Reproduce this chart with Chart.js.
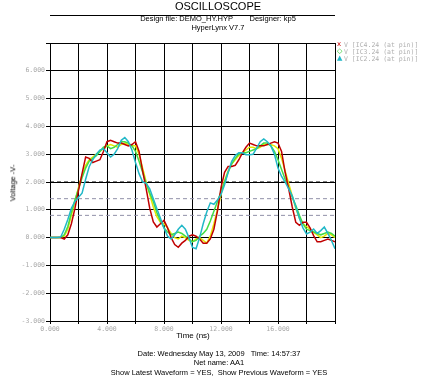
<!DOCTYPE html>
<html>
<head>
<meta charset="utf-8">
<script src="https://cdn.jsdelivr.net/npm/chart.js@4.4.0/dist/chart.umd.min.js"></script>
<style>
  html,body{margin:0;padding:0;background:#fff;}
  #wrap{position:relative;width:445px;height:384px;overflow:hidden;font-family:"Liberation Sans",Arial,sans-serif;}
  canvas{position:absolute;left:0;top:0;}
  .t{position:absolute;white-space:pre;color:#000;line-height:1;}
  .c{transform:translateX(-50%);}
  .lg{position:absolute;white-space:pre;font-family:"DejaVu Sans Mono",monospace;font-size:6.5px;color:#b0b0b0;line-height:1;}
  .mk{position:absolute;font-size:7px;line-height:1;font-family:"DejaVu Sans",sans-serif;}
</style>
</head>
<body>
<div id="wrap">
  <canvas id="c" width="445" height="384"></canvas>
  <div class="t c" style="left:218px;top:1px;font-size:11px;">OSCILLOSCOPE</div>
  <div style="position:absolute;left:50px;top:15px;width:285px;height:1px;background:#000;"></div>
  <div class="t c" style="left:218px;top:15px;font-size:7.5px;">Design file: DEMO_HY.HYP        Designer: kp5</div>
  <div class="t c" style="left:218px;top:24px;font-size:7.5px;">HyperLynx V7.7</div>
  <div class="t" style="left:13px;top:183px;font-size:7.5px;transform:translate(-50%,-50%) rotate(-90deg);">Voltage -V-</div>
  <div class="t c" style="left:193px;top:332px;font-size:8px;">Time (ns)</div>
  <div class="t c" style="left:219px;top:350px;font-size:7.5px;">Date: Wednesday May 13, 2009   Time: 14:57:37</div>
  <div class="t c" style="left:219px;top:359px;font-size:7.5px;">Net name: AA1</div>
  <div class="t c" style="left:219px;top:369px;font-size:7.5px;">Show Latest Waveform = YES,  Show Previous Waveform = YES</div>
  <div class="mk" style="left:337px;top:41px;color:#cc0000;">x</div>
  <div class="lg" style="left:344px;top:42px;">V [IC4.24 (at pin)]</div>
  <div class="mk" style="left:337px;top:48px;color:#33cc33;">&#9671;</div>
  <div class="lg" style="left:344px;top:49px;">V [IC3.24 (at pin)]</div>
  <div class="mk" style="left:337px;top:55px;color:#20b8c8;">&#9650;</div>
  <div class="lg" style="left:344px;top:56px;">V [IC2.24 (at pin)]</div>
</div>
<script>
const times = [0,0.25,0.5,0.75,1,1.25,1.5,1.75,2,2.25,2.5,2.75,3,3.25,3.5,3.75,4,4.25,4.5,4.75,5,5.25,5.5,5.75,6,6.25,6.5,6.75,7,7.25,7.5,7.75,8,8.25,8.5,8.75,9,9.25,9.5,9.75,10,10.25,10.5,10.75,11,11.25,11.5,11.75,12,12.25,12.5,12.75,13,13.25,13.5,13.75,14,14.25,14.5,14.75,15,15.25,15.5,15.75,16,16.25,16.5,16.75,17,17.25,17.5,17.75,18,18.25,18.5,18.75,19,19.25,19.5,19.75,20];

const vIC4 = [0,0,0,0,-0.05,0.1,0.5,1.05,1.7,2.3,2.9,2.85,2.7,2.75,2.8,3.1,3.45,3.5,3.45,3.4,3.4,3.35,3.3,3.35,3.45,3.1,2.4,1.75,1.05,0.56,0.38,0.5,0.62,0.35,0.0,-0.25,-0.35,-0.2,-0.1,0.05,0.1,0.05,-0.05,-0.2,-0.2,-0.05,0.3,0.95,1.8,2.35,2.56,2.56,2.6,2.8,3.05,3.25,3.4,3.35,3.3,3.3,3.3,3.35,3.4,3.45,3.4,3.1,2.35,1.75,1.1,0.55,0.44,0.55,0.55,0.35,0.07,-0.15,-0.15,-0.1,-0.05,-0.1,-0.15];

const vPrev = [0,0,0,0,0.05,0.3,0.8,1.3,1.8,2.25,2.6,2.8,2.9,3.0,3.1,3.2,3.3,3.35,3.3,3.25,3.35,3.4,3.35,3.3,3.3,3.0,2.5,2.0,1.55,1.1,0.75,0.55,0.5,0.35,0.15,0.0,-0.05,0.05,0.0,-0.1,-0.15,-0.05,0.0,-0.1,-0.2,0.05,0.5,1.0,1.55,2.05,2.4,2.65,2.8,2.95,3.05,3.15,3.25,3.25,3.2,3.25,3.35,3.35,3.35,3.3,3.2,2.85,2.4,1.95,1.5,1.05,0.7,0.5,0.4,0.3,0.2,0.1,0.0,0.05,0.15,0.1,0.0];

const vIC3 = [0,0,0,0,0.1,0.4,0.9,1.35,1.75,2.15,2.5,2.75,2.85,2.95,3.1,3.25,3.3,3.2,3.25,3.35,3.45,3.45,3.4,3.3,3.1,2.75,2.35,1.95,1.6,1.3,0.9,0.6,0.35,0.2,0.1,0.15,0.2,0.15,0.05,-0.05,-0.15,-0.1,0.05,0.15,0.3,0.6,0.95,1.3,1.65,2.0,2.35,2.65,2.85,3.0,3.05,3.05,3.1,3.15,3.2,3.3,3.4,3.4,3.3,3.1,2.8,2.45,2.1,1.8,1.45,1.15,0.8,0.5,0.3,0.25,0.2,0.15,0.1,0.15,0.2,0.15,0.05];

const vIC2 = [0,0,0,0.02,0.3,0.65,1.05,1.3,1.45,1.6,2.1,2.55,2.8,3.0,3.15,3.2,3.05,2.9,3.0,3.2,3.5,3.6,3.45,3.15,2.7,2.3,2.0,1.95,1.75,1.4,1.04,0.7,0.35,0.05,-0.05,0.1,0.3,0.44,0.3,0.0,-0.35,-0.4,0.0,0.5,0.92,1.25,1.2,1.35,1.55,1.9,2.35,2.74,2.95,3.05,3.05,2.98,2.98,3.0,3.22,3.45,3.55,3.45,3.3,3.0,2.5,2.2,2.0,1.75,1.5,1.1,0.7,0.35,0.13,0.2,0.31,0.15,0.25,0.38,0.15,-0.1,-0.4];

const thresholds = [2.0, 1.4, 0.8];
const xTickLabels = [0, 4, 8, 12, 16];
const yTickLabels = [-3, -2, -1, 0, 1, 2, 3, 4, 5, 6];

const pts = arr => times.map((t, i) => ({x: t, y: arr[i]}));
const hline = v => [{x: 0, y: v}, {x: 20, y: v}];

const mk = (data, color, order) => ({data: data, borderColor: color, borderWidth: 1.5, pointRadius: 0, tension: 0, fill: false, order: order});

const datasets = [
  mk(pts(vIC2), '#22b8c8', 0),
  mk(pts(vIC4), '#c00000', 1),
  mk(pts(vIC3), '#44dd44', 2),
  mk(pts(vPrev), '#e6e600', 3),
  Object.assign(mk(hline(thresholds[0]), '#000000', 5), {borderWidth: 1, borderDash: [4, 3]}),
  Object.assign(mk(hline(thresholds[1]), '#9090a8', 5), {borderWidth: 1, borderDash: [4, 3]}),
  Object.assign(mk(hline(thresholds[2]), '#9090a8', 5), {borderWidth: 1, borderDash: [4, 3]})
];

new Chart(document.getElementById('c'), {
  type: 'line',
  data: {datasets: datasets},
  options: {
    responsive: false,
    animation: false,
    events: [],
    layout: {padding: {left: 8, right: 110, top: 43, bottom: 49}},
    plugins: {legend: {display: false}, tooltip: {enabled: false}},
    scales: {
      x: {
        type: 'linear', min: 0, max: 20,
        afterFit: s => { s.height = 14; },
        border: {color: '#000', width: 1},
        grid: {color: '#000', lineWidth: 1, tickLength: 3, tickColor: '#000'},
        ticks: {
          stepSize: 2, autoSkip: false, maxRotation: 0, padding: 1,
          color: '#a8a8a8', font: {family: 'DejaVu Sans Mono', size: 6.5},
          callback: v => xTickLabels.includes(v) ? v.toFixed(3) : ''
        }
      },
      y: {
        type: 'linear', min: -3, max: 7,
        afterFit: s => { s.width = 42; },
        border: {color: '#000', width: 1},
        grid: {color: '#000', lineWidth: 1, tickLength: 4, tickColor: '#000'},
        ticks: {
          stepSize: 1, autoSkip: false, padding: 1,
          color: '#a8a8a8', font: {family: 'DejaVu Sans Mono', size: 6.5},
          callback: v => yTickLabels.includes(v) ? v.toFixed(3) : ''
        }
      }
    }
  }
});
</script>
</body>
</html>
